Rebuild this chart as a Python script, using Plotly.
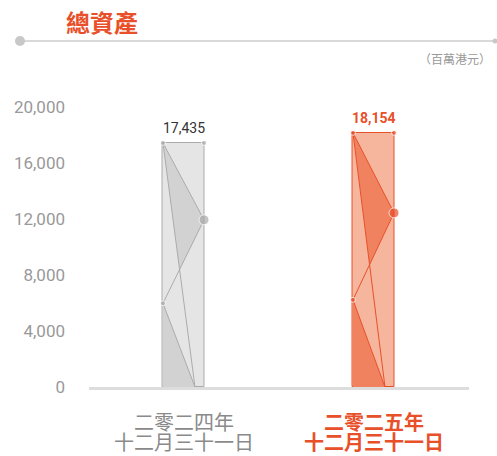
import plotly.graph_objects as go

# data
periods_line1 = ["二零二四年", "二零二五年"]
periods_line2 = ["十二月三十一日", "十二月三十一日"]
total_assets = [17435, 18154]
y_ticks = [0, 4000, 8000, 12000, 16000, 20000]

ORANGE = "#e8502a"
GREY_TXT = "#8a8a8a"
CJK = "Noto Sans CJK TC, Noto Sans, sans-serif"
NUM = "Roboto, Noto Sans, sans-serif"

styles = [
    dict(fill="#e5e5e5", dark="#d2d2d2", line="#ababab", label="#333333", cat=GREY_TXT, bold=False),
    dict(fill="#f6b59d", dark="#f0825f", line=ORANGE, label=ORANGE, cat=ORANGE, bold=True),
]

W = 0.108  # half bar width in category units
RIGHT_FRAC, LEFT_FRAC, BOT_FRAC = 0.685, 0.343, 0.78


def intersect(p1, p2, p3, p4):
    (x1, y1), (x2, y2), (x3, y3), (x4, y4) = p1, p2, p3, p4
    d = (x1 - x2) * (y3 - y4) - (y1 - y2) * (x3 - x4)
    t = ((x1 - x3) * (y3 - y4) - (y1 - y3) * (x3 - x4)) / d
    return x1 + t * (x2 - x1), y1 + t * (y2 - y1)


fig = go.Figure()

for i, (v, s) in enumerate(zip(total_assets, styles)):
    fig.add_trace(go.Bar(
        x=[i], y=[v], width=2 * W,
        marker=dict(color=s["fill"], line=dict(color=s["line"], width=1)),
        showlegend=False, hoverinfo="skip",
    ))

    xl, xr = i - W, i + W
    xb = xl + BOT_FRAC * 2 * W
    tl, tr = (xl, v), (xr, v)
    rd = (xr, RIGHT_FRAC * v)
    ld = (xl, LEFT_FRAC * v)
    bp = (xb, 0)
    ip = intersect(rd, ld, tl, bp)

    # shaded facets
    fig.add_trace(go.Scatter(
        x=[tl[0], rd[0], ip[0], tl[0], None, ld[0], xl, bp[0], ld[0]],
        y=[tl[1], rd[1], ip[1], tl[1], None, ld[1], 0, bp[1], ld[1]],
        mode="lines", fill="toself", fillcolor=s["dark"],
        line=dict(width=0), showlegend=False, hoverinfo="skip",
    ))
    # facet edges
    fig.add_trace(go.Scatter(
        x=[tl[0], rd[0], ld[0], bp[0], None, tl[0], bp[0]],
        y=[tl[1], rd[1], ld[1], bp[1], None, tl[1], bp[1]],
        mode="lines", line=dict(color=s["line"], width=1),
        showlegend=False, hoverinfo="skip",
    ))
    fig.add_trace(go.Scatter(
        x=[tl[0], tr[0], ld[0], rd[0]],
        y=[tl[1], tr[1], ld[1], rd[1]],
        mode="markers", marker=dict(color=s["line"], size=[5, 5, 5, 10]),
        showlegend=False, hoverinfo="skip",
    ))

    txt = f"{v:,}"
    fig.add_annotation(
        x=i, y=v, xref="x", yref="y", yanchor="bottom", yshift=5,
        text=f"<b>{txt}</b>" if s["bold"] else txt, showarrow=False,
        font=dict(family=NUM, size=14, color=s["label"]),
    )
    for line_txt, py in [(periods_line1[i], 1 - 421 / 456), (periods_line2[i], 1 - 441.5 / 456)]:
        fig.add_annotation(
            x=i, y=py, xref="x", yref="paper", yanchor="middle",
            text=f"<b>{line_txt}</b>" if s["bold"] else line_txt, showarrow=False,
            font=dict(family=CJK, size=20, color=s["cat"]),
        )

# header
fig.add_annotation(
    x=102 / 497, y=0.952, xref="paper", yref="paper", xanchor="center", yanchor="middle",
    text="<b>總資產</b>", showarrow=False,
    font=dict(family=CJK, size=24, color=ORANGE),
)
fig.add_annotation(
    x=493 / 497, y=1 - 58 / 456, xref="paper", yref="paper", xanchor="right", yanchor="middle",
    text="（百萬港元）", showarrow=False,
    font=dict(family=CJK, size=12, color="#999999"),
)
fig.add_shape(type="line", xref="paper", yref="paper",
              x0=20 / 497, x1=1, y0=1 - 41 / 456, y1=1 - 41 / 456,
              line=dict(color="#cccccc", width=1.5))
fig.add_shape(type="circle", xref="paper", yref="paper",
              xsizemode="pixel", ysizemode="pixel",
              xanchor=20 / 497, yanchor=1 - 41 / 456, x0=-5, x1=5, y0=-5, y1=5,
              fillcolor="#c8c8c8", line=dict(width=0))
fig.add_shape(type="circle", xref="paper", yref="paper",
              xsizemode="pixel", ysizemode="pixel",
              xanchor=495 / 497, yanchor=1 - 41 / 456, x0=-2.5, x1=2.5, y0=-2.5, y1=2.5,
              fillcolor="#c8c8c8", line=dict(width=0))

fig.update_layout(
    template="none",
    width=497, height=456,
    margin=dict(l=0, r=0, t=0, b=0, autoexpand=False),
    paper_bgcolor="white", plot_bgcolor="white",
    bargap=0, barmode="overlay",
    xaxis=dict(
        domain=[88.5 / 497, 468.5 / 497], range=[-0.5, 1.5], automargin=False,
        showticklabels=False, ticks="", showgrid=False, zeroline=False,
        showline=True, linecolor="#dddddd", linewidth=3,
    ),
    yaxis=dict(
        domain=[69 / 456, 349 / 456], range=[0, 20000], automargin=False,
        anchor="free", position=85 / 497,
        tickvals=y_ticks, tickformat=",", ticks="", ticklabelstandoff=20,
        tickfont=dict(family=NUM, size=17, color="#999999"),
        showgrid=False, zeroline=False, showline=False,
    ),
    yaxis2=dict(
        domain=[69 / 456, 349 / 456], range=[0, 20000], automargin=False,
        overlaying="y", anchor="free", position=85 / 497,
        tickvals=y_ticks[1:], showticklabels=False,
        ticks="outside", ticklen=12, tickwidth=1.5, tickcolor="#dddddd",
        showgrid=False, zeroline=False, showline=False,
    ),
)

fig.write_html(
    "out.html",
    config={"displayModeBar": False},
    post_script="document.body.style.margin='0';",
)
